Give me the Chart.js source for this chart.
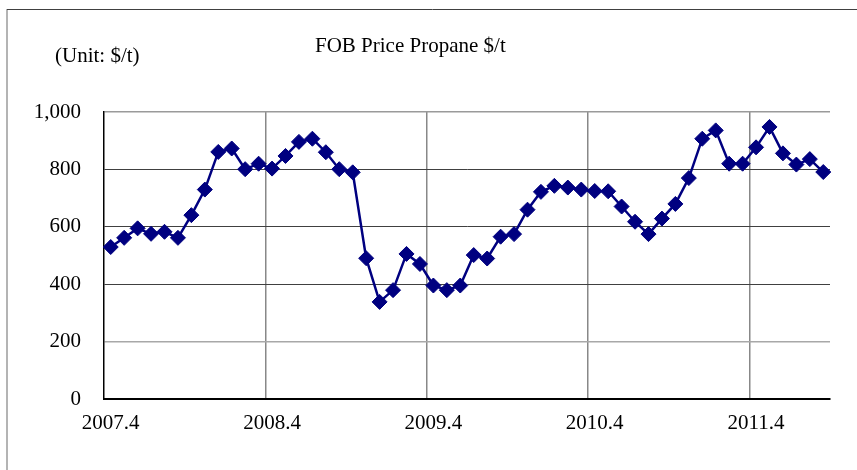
<!DOCTYPE html>
<html>
<head>
<meta charset="utf-8">
<script src="https://cdn.jsdelivr.net/npm/chart.js@4/dist/chart.umd.min.js"></script>
<style>
  html, body { margin: 0; padding: 0; background: #ffffff; }
  #wrap { width: 857px; height: 470px; position: relative; }
</style>
</head>
<body>
<div id="wrap"><canvas id="c" width="857" height="470"></canvas></div>
<script>
const TITLE = 'FOB Price Propane $/t';
const UNIT_LABEL = '(Unit: $/t)';
const START_YEAR = 2007;
const START_MONTH = 4;
const MONTH_LABELS = [];
const PRICES = [
  530, 562, 595, 576, 583, 562, 641, 730, 861, 873,
  801, 820, 803, 847, 896, 907, 860, 801, 790, 491,
  339, 380, 506, 471, 396, 380, 396, 502, 490, 566,
  575, 660, 722, 743, 737, 730, 725, 724, 671, 618,
  575, 629, 680, 770, 907, 936, 820, 820, 877, 948,
  856, 817, 836, 791
];
const Y_TICKS = [0, 200, 400, 600, 800, 1000];

// month labels like 2007.4, 2007.5, ...
for (let i = 0; i < PRICES.length; i++) {
  const m0 = START_MONTH - 1 + i;
  const y = START_YEAR + Math.floor(m0 / 12);
  const m = (m0 % 12) + 1;
  MONTH_LABELS.push(y + '.' + m);
}

const FONT = "'Liberation Serif', 'Times New Roman', serif";

const framePlugin = {
  id: 'frame',
  beforeDraw(chart) {
    const ctx = chart.ctx;
    ctx.save();
    ctx.fillStyle = '#ffffff';
    ctx.fillRect(0, 0, chart.width, chart.height);
    ctx.strokeStyle = '#b4b4b4';
    ctx.lineWidth = 2;
    ctx.beginPath();
    ctx.moveTo(7, 9);
    ctx.lineTo(7, chart.height + 5);
    ctx.stroke();
    ctx.strokeStyle = '#404040';
    ctx.lineWidth = 1;
    ctx.beginPath();
    ctx.moveTo(7, 9.5);
    ctx.lineTo(chart.width + 5, 9.5);
    ctx.stroke();
    ctx.restore();
  },
  afterDraw(chart) {
    const ctx = chart.ctx;
    ctx.save();
    ctx.fillStyle = '#000000';
    ctx.font = '21px ' + FONT;
    ctx.textBaseline = 'alphabetic';
    ctx.textAlign = 'left';
    ctx.fillText(TITLE, 315, 52);
    ctx.fillText(UNIT_LABEL, 55, 62);
    ctx.restore();
  }
};

new Chart(document.getElementById('c'), {
  type: 'line',
  data: {
    labels: MONTH_LABELS,
    datasets: [{
      data: PRICES,
      borderColor: '#000080',
      backgroundColor: '#000080',
      borderWidth: 2.5,
      pointStyle: 'rectRot',
      pointRadius: 7.5,
      pointBorderWidth: 1,
      pointBackgroundColor: '#000080',
      pointBorderColor: '#000080',
      tension: 0,
      fill: false
    }]
  },
  options: {
    responsive: false,
    animation: false,
    devicePixelRatio: 1,
    layout: { padding: { top: 112, right: 27, left: 0, bottom: 0 } },
    plugins: {
      legend: { display: false },
      tooltip: { enabled: false },
      title: { display: false }
    },
    scales: {
      x: {
        type: 'category',
        offset: true,
        grid: {
          offset: true,
          drawTicks: false,
          color: (ctx) => {
            const i = ctx.index;
            if (i === 0) return 'rgba(0,0,0,0)';
            if (i === PRICES.length) return '#9a9a9a';
            return (i % 12 === 0) ? '#888888' : 'rgba(0,0,0,0)';
          },
          lineWidth: 1.5
        },
        border: { display: true, color: '#000000', width: 2 },
        ticks: {
          autoSkip: false,
          maxRotation: 0,
          minRotation: 0,
          padding: 12,
          color: '#000000',
          font: { family: FONT, size: 21 },
          callback: function (value, index) {
            return index % 12 === 0 ? MONTH_LABELS[index] : '';
          }
        },
        afterFit(scale) { scale.height = 70.7; }
      },
      y: {
        min: 0,
        max: 1000,
        afterBuildTicks(scale) { scale.ticks = Y_TICKS.map(v => ({ value: v })); },
        grid: {
          drawTicks: false,
          color: (ctx) => {
            const v = ctx.tick ? ctx.tick.value : null;
            if (v === 0) return 'rgba(0,0,0,0)';
            if (v === 200) return '#a8a8a8';
            if (v === 1000) return '#9a9a9a';
            return '#404040';
          },
          lineWidth: (ctx) => {
            const v = ctx.tick ? ctx.tick.value : null;
            return (v === 200 || v === 1000) ? 1.5 : 1;
          }
        },
        border: { display: true, color: '#000000', width: 1.5 },
        ticks: {
          padding: 23,
          color: '#000000',
          font: { family: FONT, size: 21 },
          callback: (v) => Number(v).toLocaleString('en-US')
        },
        afterFit(scale) { scale.width = 104; }
      }
    }
  },
  plugins: [framePlugin]
});
</script>
</body>
</html>
